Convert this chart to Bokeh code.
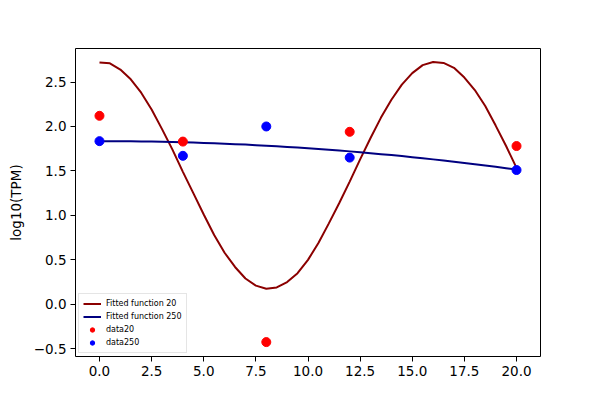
from bokeh.plotting import figure
from bokeh.models import FixedTicker, Range1d, Legend, LegendItem
from bokeh.embed import file_html
from bokeh.resources import INLINE

# Data points
t_data = [0, 4, 8, 12, 20]
data20 = [2.12, 1.83, -0.425, 1.94, 1.78]
data250 = [1.835, 1.67, 2.00, 1.65, 1.51]

# Fitted curves
t_fit = [0.0, 0.5, 1.0, 1.5, 2.0, 2.5, 3.0, 3.5, 4.0, 4.5, 5.0, 5.5, 6.0, 6.5,
         7.0, 7.5, 8.0, 8.5, 9.0, 9.5, 10.0, 10.5, 11.0, 11.5, 12.0, 12.5,
         13.0, 13.5, 14.0, 14.5, 15.0, 15.5, 16.0, 16.5, 17.0, 17.5, 18.0,
         18.5, 19.0, 19.5, 20.0]
fit20 = [2.72, 2.71, 2.64, 2.53, 2.38, 2.19, 1.97, 1.74, 1.49, 1.25, 1.01,
         0.78, 0.58, 0.42, 0.29, 0.21, 0.175, 0.19, 0.25, 0.35, 0.50, 0.69,
         0.91, 1.14, 1.38, 1.63, 1.87, 2.10, 2.30, 2.47, 2.60, 2.69, 2.725,
         2.715, 2.66, 2.55, 2.41, 2.23, 2.01, 1.78, 1.535]
fit250 = [1.835, 1.835, 1.834, 1.833, 1.832, 1.830, 1.828, 1.825, 1.822,
          1.819, 1.815, 1.811, 1.806, 1.801, 1.796, 1.790, 1.784, 1.777,
          1.770, 1.763, 1.755, 1.747, 1.738, 1.729, 1.720, 1.710, 1.700,
          1.689, 1.678, 1.667, 1.655, 1.643, 1.630, 1.617, 1.604, 1.590,
          1.576, 1.561, 1.546, 1.531, 1.515]

x_ticks = [0, 2.5, 5, 7.5, 10, 12.5, 15, 17.5, 20]
x_tick_labels = ["0.0", "2.5", "5.0", "7.5", "10.0", "12.5", "15.0", "17.5", "20.0"]
y_ticks = [-0.5, 0, 0.5, 1.0, 1.5, 2.0, 2.5]
y_tick_labels = ["\u22120.5", "0.0", "0.5", "1.0", "1.5", "2.0", "2.5"]

p = figure(width=592, height=392, output_backend="svg", toolbar_location=None,
           x_range=Range1d(-1.15, 21.15), y_range=Range1d(-0.587, 2.877),
           min_border_left=75, min_border_right=52, min_border_top=48,
           min_border_bottom=36)

p.grid.visible = False
p.outline_line_color = "black"
p.outline_line_width = 1
p.background_fill_color = "white"
p.border_fill_color = "white"

for ax in (p.xaxis[0], p.yaxis[0]):
    ax.axis_line_color = None
    ax.major_tick_in = 0
    ax.major_tick_out = 5
    ax.major_tick_line_color = "black"
    ax.minor_tick_line_color = None
    ax.major_label_text_font = "DejaVu Sans"
    ax.major_label_text_font_size = "13.5px"
    ax.major_label_text_color = "black"
    ax.major_label_standoff = 4

p.xaxis.ticker = FixedTicker(ticks=x_ticks)
p.xaxis.major_label_overrides = {t: l for t, l in zip(x_ticks, x_tick_labels)}
p.yaxis.ticker = FixedTicker(ticks=y_ticks)
p.yaxis.major_label_overrides = {t: l for t, l in zip(y_ticks, y_tick_labels)}

p.yaxis.axis_label = "log10(TPM)"
p.yaxis.axis_label_text_font = "DejaVu Sans"
p.yaxis.axis_label_text_font_size = "13.5px"
p.yaxis.axis_label_text_font_style = "normal"
p.yaxis.axis_label_text_color = "black"
p.yaxis.axis_label_standoff = 7

l20 = p.line(t_fit, fit20, line_color="#8B0000", line_width=2)
l250 = p.line(t_fit, fit250, line_color="#000080", line_width=2)
s20 = p.scatter(t_data, data20, size=9, fill_color="red", line_color="red")
s250 = p.scatter(t_data, data250, size=9, fill_color="blue", line_color="blue")

legend = Legend(items=[
    LegendItem(label="Fitted function 20", renderers=[l20]),
    LegendItem(label="Fitted function 250", renderers=[l250]),
    LegendItem(label="data20", renderers=[s20]),
    LegendItem(label="data250", renderers=[s250]),
], location="bottom_left")
legend.label_text_font = "DejaVu Sans"
legend.label_text_font_size = "8px"
legend.label_text_color = "black"
legend.label_height = 11
legend.glyph_height = 11
legend.glyph_width = 18
legend.spacing = 2
legend.padding = 4
legend.margin = 3
legend.label_standoff = 5
legend.border_line_color = "#cccccc"
legend.border_line_width = 1
legend.background_fill_alpha = 0.8
p.add_layout(legend)

open("out.html", "w").write(file_html(p, INLINE))
